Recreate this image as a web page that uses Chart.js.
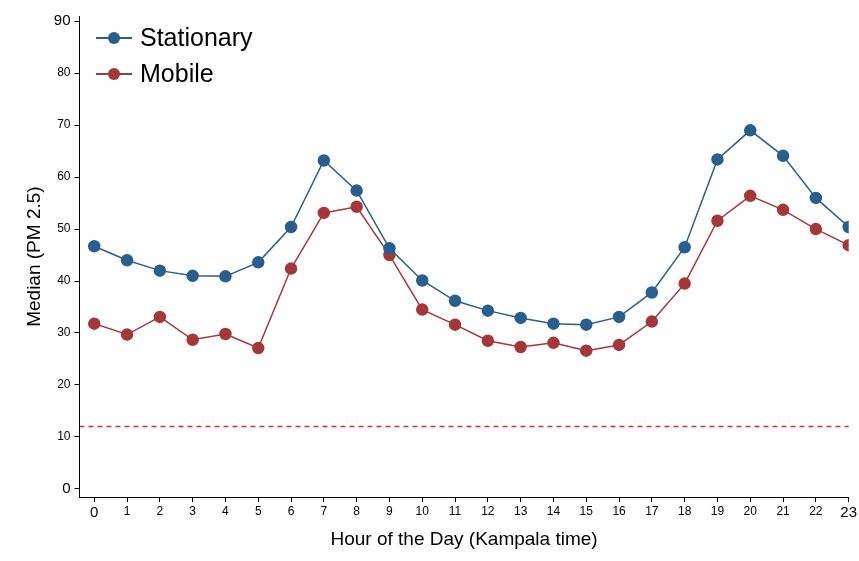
<!DOCTYPE html>
<html>
<head>
<meta charset="utf-8">
<script src="https://cdn.jsdelivr.net/npm/chart.js@4"></script>
<style>
body { margin: 0; background: #fff; }
#wrap { width: 859px; height: 561px; }
</style>
</head>
<body>
<div id="wrap"><canvas id="c"></canvas></div>
<script>
const hours = [0,1,2,3,4,5,6,7,8,9,10,11,12,13,14,15,16,17,18,19,20,21,22,23];
const stationary = [46.7,44,42,41,40.9,43.6,50.4,63.2,57.4,46.3,40.1,36.2,34.3,32.9,31.8,31.6,33.1,37.8,46.5,63.4,69,64.1,56,50.4];
const mobile = [31.8,29.7,33.1,28.7,29.8,27.1,42.4,53.1,54.3,45,34.5,31.6,28.5,27.3,28.1,26.6,27.7,32.2,39.5,51.6,56.4,53.7,50,46.9];
const guideline = 12;

const blue = "#2a5e8c";
const red = "#a3383b";

const legendPlugin = {
    id: "insideLegend",
    afterDraw(chart) {
        const ctx = chart.ctx;
        const items = [["Stationary", blue], ["Mobile", red]];
        ctx.save();
        items.forEach(([label, color], i) => {
            const y = 38 + i * 36;
            ctx.strokeStyle = color;
            ctx.lineWidth = 2;
            ctx.beginPath();
            ctx.moveTo(96, y);
            ctx.lineTo(132, y);
            ctx.stroke();
            ctx.fillStyle = color;
            ctx.beginPath();
            ctx.arc(114, y, 6, 0, Math.PI * 2);
            ctx.fill();
            ctx.fillStyle = "#000";
            ctx.font = "25px 'Liberation Sans', Arial, sans-serif";
            ctx.textBaseline = "middle";
            ctx.fillText(label, 140, y + 1);
        });
        ctx.restore();
    }
};

const tickGrid = { display: true, drawOnChartArea: false, drawTicks: true, tickLength: 5, color: "#000" };

new Chart(document.getElementById("c"), {
    type: "line",
    data: {
        datasets: [
            {
                label: "Stationary",
                data: hours.map((h, i) => ({x: h, y: stationary[i]})),
                borderColor: blue, backgroundColor: blue,
                borderWidth: 1.5, pointRadius: 5.5, pointHoverRadius: 5.5
            },
            {
                label: "Mobile",
                data: hours.map((h, i) => ({x: h, y: mobile[i]})),
                borderColor: red, backgroundColor: red,
                borderWidth: 1.5, pointRadius: 5.5, pointHoverRadius: 5.5
            },
            {
                label: "Guideline",
                data: [{x: -0.45, y: guideline}, {x: 23.1, y: guideline}],
                borderColor: "#dc3030", borderWidth: 1.5, borderDash: [5, 4],
                pointRadius: 0
            }
        ]
    },
    options: {
        responsive: true,
        maintainAspectRatio: false,
        animation: false,
        layout: { padding: { top: 16, right: 2, left: 19, bottom: 6 } },
        plugins: { legend: { display: false }, tooltip: { enabled: false } },
        scales: {
            x: {
                type: "linear", min: -0.45, max: 23.0,
                grid: tickGrid,
                border: { color: "#000" },
                afterBuildTicks: axis => { axis.ticks = hours.map(v => ({value: v})); },
                ticks: {
                    color: "#000", padding: 2,
                    font: c => ({ size: (c.tick && (c.tick.value === 0 || c.tick.value === 23)) ? 15 : 12, family: "'Liberation Sans', Arial" }),
                    maxRotation: 0, autoSkip: false
                },
                title: { display: true, text: "Hour of the Day (Kampala time)", color: "#000", font: { size: 19, family: "'Liberation Sans', Arial" } }
            },
            y: {
                min: -1.6, max: 91,
                grid: tickGrid,
                border: { color: "#000" },
                afterBuildTicks: axis => { axis.ticks = [0,10,20,30,40,50,60,70,80,90].map(v => ({value: v})); },
                ticks: {
                    color: "#000", padding: 4,
                    font: c => ({ size: (c.tick && (c.tick.value === 0 || c.tick.value === 90)) ? 15 : 12, family: "'Liberation Sans', Arial" })
                },
                title: { display: true, text: "Median (PM 2.5)", color: "#000", font: { size: 19, family: "'Liberation Sans', Arial" } }
            }
        }
    },
    plugins: [legendPlugin]
});
</script>
</body>
</html>
